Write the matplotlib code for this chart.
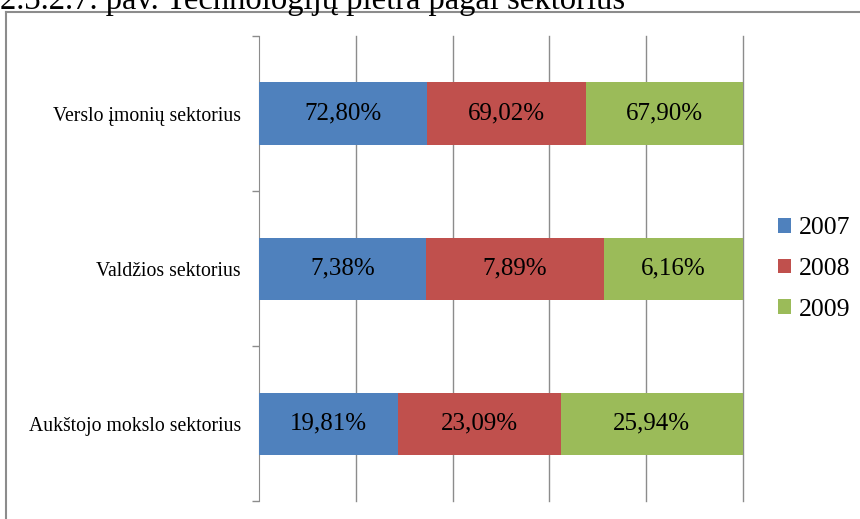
# Technologiju pletra pagal sektorius - 100% stacked horizontal bars
import matplotlib.pyplot as plt
import numpy as np
from matplotlib.lines import Line2D

sectors = ["Verslo įmonių sektorius", "Valdžios sektorius", "Aukštojo mokslo sektorius"]
years = ["2007", "2008", "2009"]
v2007 = [72.80, 7.38, 19.81]
v2008 = [69.02, 7.89, 23.09]
v2009 = [67.90, 6.16, 25.94]
colors = ["#4F81BD", "#C0504D", "#9BBB59"]

plt.rcParams['font.family'] = ['Liberation Serif', 'DejaVu Serif']

fig = plt.figure(figsize=(8.6, 5.19), dpi=100)
ax = fig.add_axes([259/860, 18/519, 484/860, 465/519])

series = np.array([v2007, v2008, v2009])
totals = series.sum(axis=0)
shares = series / totals * 100
ypos = np.arange(len(sectors))[::-1]   # first sector on top

left = np.zeros(len(sectors))
for i in range(len(years)):
    ax.barh(ypos, shares[i], left=left, height=0.4, color=colors[i], label=years[i], zorder=3)
    for y, l, w, v in zip(ypos, left, shares[i], series[i]):
        txt = f"{v:.2f}%".replace(".", ",")
        ax.text(l + w/2, y, txt, ha='center', va='center', fontsize=18, zorder=4)
    left += shares[i]

ax.set_xlim(0, 100)
ax.set_ylim(-0.5, 2.5)
ax.set_xticks([20, 40, 60, 80, 100])
ax.xaxis.grid(True, color='#8c8c8c', lw=1)
for gl in ax.get_xgridlines():
    gl.set_clip_on(False)
ax.set_axisbelow(True)
ax.tick_params(axis='x', length=0, labelbottom=False)

# boundary ticks on the y axis, labels on minor ticks
ax.set_yticks([-0.5, 0.5, 1.5, 2.5])
ax.set_yticklabels([])
ax.tick_params(axis='y', which='major', length=5, color='#8c8c8c', width=1)
ax.set_yticks(ypos, minor=True)
ax.set_yticklabels(sectors, minor=True, fontsize=14.2)
ax.tick_params(axis='y', which='minor', length=0, pad=13)

for s in ['top', 'right', 'bottom']:
    ax.spines[s].set_visible(False)
ax.spines['left'].set_color('#8c8c8c')

fig.legend(loc='center left', bbox_to_anchor=(755/860, 1 - 269/519), frameon=False,
           fontsize=18.5, handlelength=0.5, handleheight=0.5, handletextpad=0.3,
           labelspacing=0.72)

# chart frame, cut by the picture edges
fig.add_artist(Line2D([6/860, 6/860], [-0.1, 1 - 12/519], transform=fig.transFigure,
                      color='#8c8c8c', lw=1.5))
fig.add_artist(Line2D([6/860, 1.1], [1 - 12/519, 1 - 12/519], transform=fig.transFigure,
                      color='#8c8c8c', lw=1.5))

# caption above the frame (top cut off)
fig.text(0, 1 - 9/519, "2.3.2.7. pav. Technologijų plėtra pagal sektorius",
         fontsize=23.5, va='baseline', ha='left')

fig.savefig("out.png", dpi=100)
